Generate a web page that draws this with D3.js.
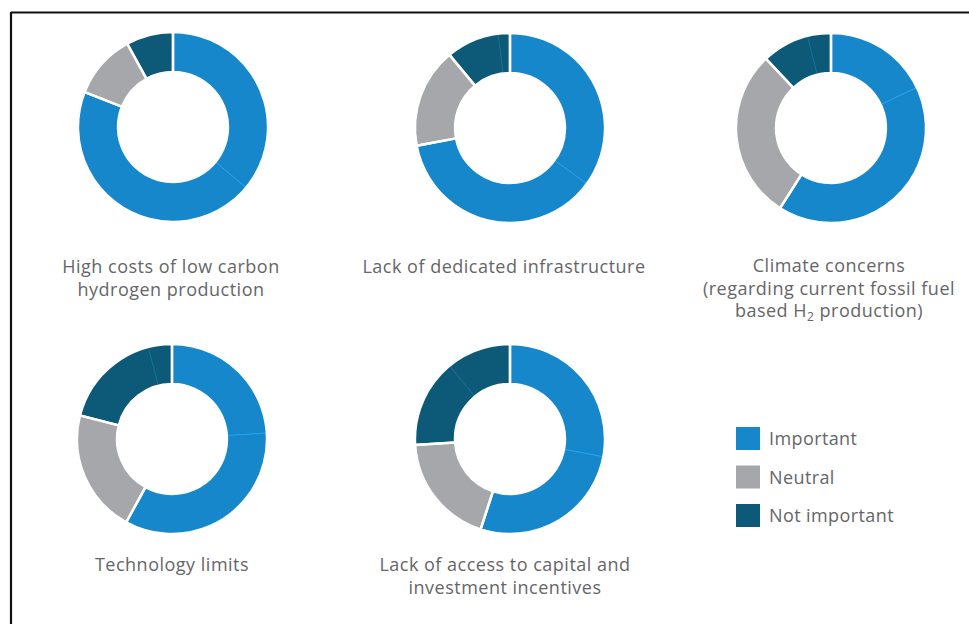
<!DOCTYPE html>
<html>
<head>
<meta charset="utf-8">
<script src="https://cdn.jsdelivr.net/npm/d3@7"></script>
<style>
  html, body { margin: 0; padding: 0; background: #fff; }
  svg text { font-family: "Open Sans", "Noto Sans", sans-serif; fill: #656668; }
</style>
</head>
<body>
<svg id="chart" width="969" height="624"></svg>
<script>
// Survey shares (%) per barrier, split into five answer bands
const barriers = [
  ["High costs of low carbon", "hydrogen production"],
  ["Lack of dedicated infrastructure"],
  ["Climate concerns", "(regarding current fossil fuel", "based H|2| production)"],
  ["Technology limits"],
  ["Lack of access to capital and", "investment incentives"]
];
const veryImportant     = [36, 35, 18, 24, 28];
const important         = [45, 37, 41, 34, 27];
const neutral           = [11, 17, 29, 21, 19];
const notImportant      = [8, 9, 8, 17, 15];
const notAtAllImportant = [0, 2, 4, 4, 11];

const legendLabels = ["Important", "Neutral", "Not important"];
const groupColors  = ["#1787cb", "#a5a7aa", "#0c5a78"];
const bandGroup    = [0, 0, 1, 2, 2];   // which legend group each answer band belongs to

const svg = d3.select("#chart");

// frame lines along the top and left edge
svg.append("line").attr("x1", 11).attr("y1", 12.5).attr("x2", 969).attr("y2", 12.5)
  .attr("stroke", "#111").attr("stroke-width", 2.2);
svg.append("line").attr("x1", 11).attr("y1", 12).attr("x2", 11).attr("y2", 624)
  .attr("stroke", "#111").attr("stroke-width", 2.2);

const centers = [[173, 127], [510, 128], [831, 128], [172, 439], [510, 439]];
const labelX   = [171, 504, 829, 172, 505];
const labelTop = [273, 273, 272, 571, 571];
const outerR = 95, innerR = 55;

const pie = d3.pie().sort(null).value(d => d);
const arc = d3.arc().innerRadius(innerR).outerRadius(outerR);

barriers.forEach((lines, i) => {
  const bands = [veryImportant[i], important[i], neutral[i], notImportant[i], notAtAllImportant[i]];
  const groups = [bands[0] + bands[1], bands[2], bands[3] + bands[4]];
  const g = svg.append("g").attr("transform", `translate(${centers[i][0]},${centers[i][1]})`);

  // answer bands: thin lighter seams between bands of the same group
  g.selectAll("path.band").data(pie(bands)).join("path")
    .attr("class", "band")
    .attr("d", arc)
    .attr("fill", (d, k) => groupColors[bandGroup[k]])
    .attr("stroke", (d, k) => d3.color(groupColors[bandGroup[k]]).brighter(0.6))
    .attr("stroke-width", 0.7);

  // white gaps between the three legend groups
  g.selectAll("path.group").data(pie(groups)).join("path")
    .attr("class", "group")
    .attr("d", arc)
    .attr("fill", "none")
    .attr("stroke", "#fff")
    .attr("stroke-width", 2.4);

  // caption under the ring
  const t = svg.append("text")
    .attr("text-anchor", "middle")
    .attr("font-size", 18)
    .attr("letter-spacing", 0.5);
  lines.forEach((ln, j) => {
    const parts = ln.split("|");
    t.append("tspan")
      .attr("x", labelX[i])
      .attr("y", labelTop[i] + j * 22.5)
      .text(parts[0]);
    if (parts.length > 1) {
      t.append("tspan").attr("font-size", 12).attr("dy", 4).text(parts[1]);
      t.append("tspan").attr("dy", -4).text(parts[2]);
    }
  });
});

// legend
const legend = svg.append("g").attr("transform", "translate(736,427)");
legendLabels.forEach((lab, k) => {
  const row = legend.append("g").attr("transform", `translate(0,${k * 38.5})`);
  row.append("rect").attr("width", 24).attr("height", 23).attr("fill", groupColors[k]);
  row.append("text").attr("x", 33).attr("y", 18).attr("font-size", 18)
    .attr("letter-spacing", 0.4).text(lab);
});
</script>
</body>
</html>
